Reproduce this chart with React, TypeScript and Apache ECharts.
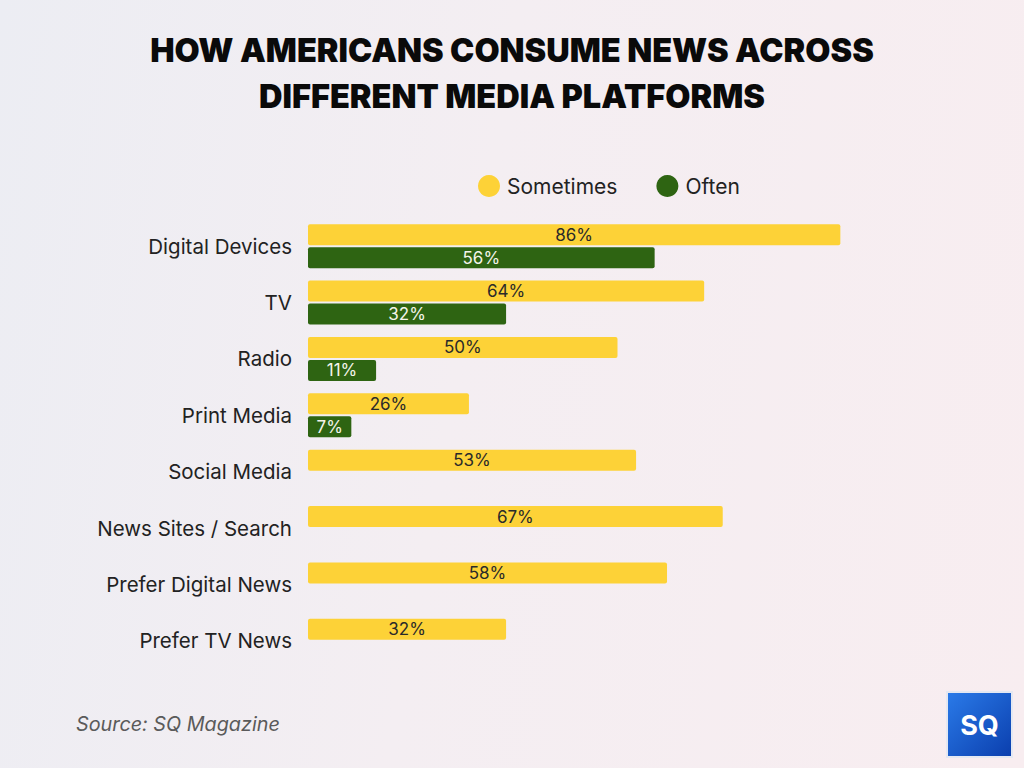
import React, { useEffect, useRef } from "react";
import * as echarts from "echarts";

const categories = [
  "Digital Devices",
  "TV",
  "Radio",
  "Print Media",
  "Social Media",
  "News Sites / Search",
  "Prefer Digital News",
  "Prefer TV News",
];
const sometimes = [86, 64, 50, 26, 53, 67, 58, 32];
const often: (number | null)[] = [56, 32, 11, 7, null, null, null, null];

const YELLOW = "#FDD237";
const GREEN = "#2E6412";

export default function App() {
  const ref = useRef<HTMLDivElement>(null);

  useEffect(() => {
    if (!ref.current) return;
    const chart = echarts.init(ref.current, null, { renderer: "svg" });
    chart.setOption({
      animation: false,
      backgroundColor: "transparent",
      title: {
        text: "HOW AMERICANS CONSUME NEWS ACROSS\nDIFFERENT MEDIA PLATFORMS",
        left: "center",
        top: 22,
        textStyle: {
          fontFamily: "Inter",
          fontWeight: 900,
          fontSize: 32.5,
          lineHeight: 46,
          color: "#0a0a0a",
        },
      },
      legend: {
        top: 170,
        left: 473,
        itemWidth: 22,
        itemHeight: 22,
        itemGap: 39,
        icon: "circle",
        textStyle: { fontFamily: "Inter", fontSize: 21, color: "#222", padding: [0, 0, 0, 2] },
        data: ["Sometimes", "Often"],
      },
      grid: { left: 308, width: 619, top: 218, height: 451, containLabel: false },
      xAxis: {
        type: "value",
        min: 0,
        max: 100,
        show: false,
      },
      yAxis: {
        type: "category",
        inverse: true,
        data: categories,
        axisLine: { show: false },
        axisTick: { show: false },
        splitLine: { show: false },
        axisLabel: {
          fontFamily: "Inter",
          fontSize: 20.5,
          color: "#222",
          margin: 16,
          verticalAlign: "middle",
          padding: [17, 0, 0, 0],
        },
      },
      series: [
        {
          name: "Sometimes",
          type: "bar",
          data: sometimes,
          barWidth: 21,
          barGap: "10%",
          itemStyle: { color: YELLOW, borderRadius: 2 },
          label: {
            show: true,
            position: "inside",
            formatter: "{c}%",
            fontFamily: "Inter",
            fontSize: 17,
            color: "#2a2a2a",
          },
        },
        {
          name: "Often",
          type: "bar",
          data: often,
          barWidth: 21,
          itemStyle: { color: GREEN, borderRadius: 2 },
          label: {
            show: true,
            position: "inside",
            formatter: "{c}%",
            fontFamily: "Inter",
            fontSize: 17,
            color: "#f4f4ea",
          },
        },
      ],
      graphic: [
        {
          type: "text",
          left: 76,
          top: 714,
          style: {
            text: "Source: SQ Magazine",
            fontFamily: "Inter",
            fontStyle: "italic",
            fontSize: 19.8,
            fill: "#5a5a5a",
          },
        },
        {
          type: "group",
          left: 946,
          top: 691,
          children: [
            {
              type: "rect",
              shape: { x: 0, y: 0, width: 67, height: 67 },
              style: { fill: "#e4e8f2" },
            },
            {
              type: "rect",
              shape: { x: 2, y: 2, width: 63, height: 63 },
              style: {
                fill: new echarts.graphic.LinearGradient(0, 0, 1, 1, [
                  { offset: 0, color: "#2a7ae8" },
                  { offset: 1, color: "#0b3fae" },
                ]),
              },
            },
            {
              type: "text",
              x: 33.5,
              y: 34,
              style: {
                text: "SQ",
                fontFamily: "Inter",
                fontWeight: 700,
                fontSize: 27,
                fill: "#ffffff",
                align: "center",
                verticalAlign: "middle",
              },
            },
          ],
        },
      ],
    });
    return () => chart.dispose();
  }, []);

  return (
    <div
      style={{
        position: "fixed",
        left: 0,
        top: 0,
        width: 1024,
        height: 768,
        background: "linear-gradient(100deg, #ecedf3 0%, #f4eef2 45%, #f8edf0 100%)",
      }}
    >
      <div ref={ref} style={{ width: 1024, height: 768 }} />
    </div>
  );
}
